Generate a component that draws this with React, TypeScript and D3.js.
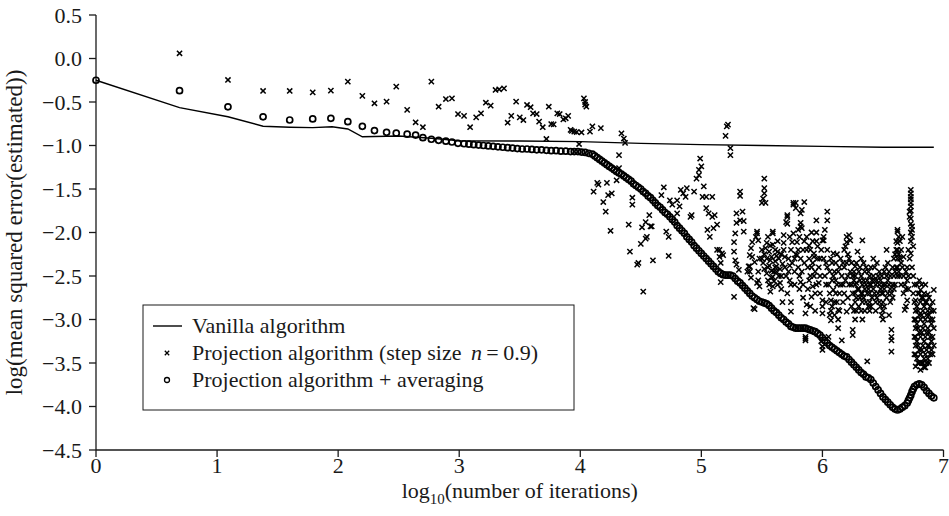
import React from 'react';
import * as d3 from 'd3';

const W = 949;
const H = 516;

const xTicks = [0, 1, 2, 3, 4, 5, 6, 7];
const yTicks = [0.5, 0, -0.5, -1, -1.5, -2, -2.5, -3, -3.5, -4, -4.5];

// vanilla algorithm (solid line)
const vanilla: [number, number][] = [
  [0, -0.25], [0.69, -0.565], [1.09, -0.67], [1.38, -0.778], [1.6, -0.79], [1.79, -0.795],
  [1.95, -0.784], [2.08, -0.81], [2.2, -0.9], [2.5, -0.89], [2.8, -0.92], [3.0, -0.945],
  [3.5, -0.948], [4.0, -0.955], [4.5, -0.975], [5.0, -0.99], [5.5, -1.0], [6.0, -1.01],
  [6.5, -1.02], [6.92, -1.02],
];

// projection algorithm + averaging (open circles)
const averaging: [number, number][] = [
  [0, -0.25], [0.69, -0.37], [1.09, -0.555], [1.38, -0.67], [1.6, -0.707], [1.79, -0.695],
  [1.94, -0.688], [2.08, -0.726], [2.2, -0.78], [2.3, -0.828], [2.4, -0.848], [2.48, -0.858],
  [2.57, -0.87], [2.64, -0.88], [2.7, -0.91], [2.77, -0.928], [2.83, -0.94], [2.89, -0.95],
  [2.94, -0.96], [2.99, -0.975], [3.04, -0.98], [3.08, -0.985], [3.12, -0.99], [3.16, -0.995],
  [3.2, -1.0], [3.24, -1.005], [3.28, -1.01], [3.32, -1.015], [3.36, -1.02], [3.4, -1.025],
  [3.44, -1.03], [3.48, -1.035], [3.52, -1.04], [3.56, -1.04], [3.6, -1.045], [3.64, -1.05],
  [3.68, -1.05], [3.72, -1.055], [3.76, -1.06], [3.8, -1.06], [3.84, -1.065], [3.88, -1.065],
  [3.92, -1.07], [3.95, -1.07], [3.98, -1.07], [4.01, -1.075], [4.04, -1.08], [4.07, -1.09],
  [4.1, -1.1], [4.12, -1.12], [4.14, -1.14], [4.16, -1.16], [4.18, -1.18], [4.2, -1.2],
  [4.22, -1.22], [4.24, -1.24], [4.26, -1.26], [4.28, -1.28], [4.3, -1.3], [4.32, -1.315],
  [4.34, -1.33], [4.36, -1.35], [4.38, -1.37], [4.4, -1.39], [4.42, -1.41], [4.44, -1.44],
  [4.46, -1.46], [4.48, -1.48], [4.5, -1.5], [4.52, -1.53], [4.54, -1.55], [4.56, -1.58],
  [4.58, -1.6], [4.6, -1.63], [4.62, -1.66], [4.64, -1.69], [4.66, -1.71], [4.68, -1.74],
  [4.7, -1.77], [4.72, -1.79], [4.74, -1.82], [4.76, -1.85], [4.78, -1.88], [4.8, -1.92],
  [4.82, -1.95], [4.84, -1.98], [4.86, -2.01], [4.88, -2.05], [4.9, -2.08], [4.92, -2.11],
  [4.94, -2.15], [4.96, -2.18], [4.98, -2.21], [5.0, -2.24], [5.02, -2.27], [5.04, -2.3],
  [5.06, -2.33], [5.08, -2.36], [5.1, -2.39], [5.12, -2.42], [5.14, -2.45], [5.16, -2.47],
  [5.18, -2.485], [5.2, -2.49], [5.22, -2.49], [5.24, -2.49], [5.26, -2.5], [5.28, -2.53],
  [5.3, -2.56], [5.32, -2.58], [5.34, -2.61], [5.36, -2.64], [5.38, -2.67], [5.4, -2.7],
  [5.42, -2.73], [5.44, -2.75], [5.46, -2.77], [5.48, -2.79], [5.5, -2.8], [5.52, -2.81],
  [5.54, -2.82], [5.56, -2.84], [5.58, -2.87], [5.6, -2.9], [5.62, -2.92], [5.64, -2.95],
  [5.66, -2.98], [5.68, -3.0], [5.7, -3.03], [5.72, -3.05], [5.74, -3.08], [5.76, -3.09],
  [5.78, -3.1], [5.8, -3.1], [5.82, -3.1], [5.84, -3.1], [5.86, -3.1], [5.88, -3.11],
  [5.9, -3.12], [5.92, -3.13], [5.94, -3.14], [5.96, -3.16], [5.98, -3.18], [6.0, -3.21],
  [6.02, -3.24], [6.04, -3.27], [6.06, -3.3], [6.08, -3.32], [6.1, -3.34], [6.12, -3.36],
  [6.14, -3.38], [6.16, -3.4], [6.18, -3.42], [6.2, -3.43], [6.22, -3.46], [6.24, -3.49],
  [6.26, -3.52], [6.28, -3.55], [6.3, -3.58], [6.32, -3.61], [6.34, -3.63], [6.36, -3.66],
  [6.38, -3.67], [6.4, -3.69], [6.42, -3.73], [6.44, -3.77], [6.46, -3.81], [6.48, -3.85],
  [6.5, -3.89], [6.52, -3.92], [6.54, -3.95], [6.56, -3.98], [6.58, -4.01], [6.6, -4.03],
  [6.62, -4.04], [6.64, -4.03], [6.66, -4.01], [6.68, -3.99], [6.7, -3.96], [6.71, -3.93],
  [6.72, -3.9], [6.73, -3.87], [6.74, -3.83], [6.75, -3.8], [6.76, -3.77], [6.78, -3.75],
  [6.8, -3.74], [6.82, -3.75], [6.84, -3.78], [6.86, -3.82], [6.88, -3.85], [6.9, -3.88],
  [6.92, -3.9],
];

// projection algorithm, step size 0.9 (crosses): x -> list of y values
const projection: [number, number[]][] = [
  [0.69, [0.06]], [1.09, [-0.247]], [1.38, [-0.373]], [1.6, [-0.373]], [1.79, [-0.389]],
  [1.94, [-0.37]], [2.08, [-0.266]], [2.2, [-0.43]], [2.3, [-0.515]], [2.4, [-0.496]],
  [2.48, [-0.324]], [2.57, [-0.59]], [2.64, [-0.733]], [2.7, [-0.79]], [2.77, [-0.266]],
  [2.83, [-0.554]], [2.89, [-0.466]], [2.94, [-0.458]], [2.99, [-0.638]], [3.04, [-0.66]],
  [3.09, [-0.79]], [3.14, [-0.676]], [3.18, [-0.63]], [3.22, [-0.508]], [3.26, [-0.542]],
  [3.3, [-0.362]], [3.33, [-0.354]], [3.37, [-0.343]], [3.4, [-0.738]], [3.43, [-0.66]],
  [3.47, [-0.496]], [3.5, [-0.676]], [3.53, [-0.707]], [3.56, [-0.534]], [3.59, [-0.56]],
  [3.61, [-0.63]], [3.64, [-0.638]], [3.66, [-0.726]], [3.69, [-0.79]], [3.72, [-0.925]],
  [3.74, [-0.554]], [3.76, [-0.753]], [3.78, [-0.757]], [3.81, [-0.63]], [3.83, [-0.638]],
  [3.86, [-0.7]], [3.88, [-0.687]], [3.9, [-0.66]], [3.92, [-0.82]], [3.93, [-0.833]],
  [3.95, [-0.84]], [3.97, [-0.845]], [3.99, [-0.983]], [4.01, [-0.85]], [4.03, [-0.458]],
  [4.04, [-0.5, -0.53]], [4.05, [-0.554]], [4.08, [-0.84]], [4.1, [-0.78]], [4.11, [-1.53]],
  [4.14, [-1.43]], [4.15, [-1.45]], [4.17, [-0.8]], [4.19, [-1.65]], [4.21, [-1.76]],
  [4.22, [-1.43]], [4.23, [-1.57]], [4.25, [-1.98]], [4.26, [-1.55]], [4.3, [-1.4]],
  [4.32, [-1.11, -1.26]], [4.34, [-0.86]], [4.36, [-0.92]], [4.37, [-0.97]], [4.4, [-1.91]],
  [4.41, [-2.22]], [4.43, [-1.6, -1.68]], [4.47, [-2.37]], [4.48, [-2.35]], [4.5, [-2.13]],
  [4.51, [-1.94]], [4.52, [-2.68]], [4.54, [-1.88, -2.07]], [4.55, [-2.05]], [4.57, [-1.8]],
  [4.58, [-1.93]], [4.59, [-1.93]], [4.6, [-2.32]], [4.67, [-1.57]], [4.69, [-1.48]],
  [4.71, [-1.99]], [4.73, [-2.05, -2.27]], [4.74, [-1.63]], [4.76, [-1.68]], [4.8, [-1.63, -1.78]],
  [4.82, [-1.7]], [4.83, [-1.51]], [4.85, [-1.55]], [4.87, [-1.59]], [4.88, [-1.49]],
  [4.91, [-1.82]], [4.92, [-1.8]], [4.94, [-1.53]], [4.96, [-1.38]], [4.98, [-1.28, -1.34]],
  [4.99, [-1.15]], [5.0, [-1.24]], [5.01, [-1.59]], [5.02, [-1.47]], [5.04, [-1.59, -1.72]],
  [5.05, [-1.97]], [5.06, [-1.78]], [5.07, [-2.05]], [5.09, [-1.59, -1.82]], [5.1, [-1.95]],
  [5.11, [-1.8]], [5.13, [-1.91, -2.2]], [5.15, [-2.2, -2.28]], [5.16, [-2.35, -2.57]],
  [5.17, [-2.24]], [5.18, [-2.26]], [5.2, [-0.89]], [5.21, [-0.78]], [5.22, [-0.76]],
  [5.24, [-1.03, -1.11]], [5.27, [-2.74, -2.22, -2.11]], [5.28, [-2.32, -2.01]],
  [5.29, [-2.37, -1.89, -1.78]], [5.31, [-2.43]], [5.32, [-1.86, -1.53, -1.58]], [5.34, [-1.76]],
  [5.35, [-1.87, -1.99]], [5.38, [-2.45]], [5.39, [-2.39]],
  [5.4, [-2.26, -2.39, -2.45]], [5.41, [-2.18, -2.52]], [5.42, [-2.11, -2.28]], [5.43, [-2.87]],
  [5.44, [-2.34, -2.88]], [5.45, [-2.05]], [5.46, [-1.99, -2.01, -2.58]], [5.47, [-2.09, -2.45, -2.55]],
  [5.48, [-2.3, -2.62]], [5.5, [-1.66, -2.2, -2.3]], [5.51, [-1.61, -2.35]],
  [5.52, [-1.38, -1.49, -1.55, -2.25, -2.42]], [5.53, [-1.66, -2.18]], [5.54, [-2.47, -2.3, -2.12]],
  [5.55, [-2.05, -2.4, -2.55]], [5.56, [-2.6, -2.22, -2.38]], [5.57, [-2.15, -2.32, -2.68]],
  [5.58, [-2.28, -2.44, -2.52]], [5.59, [-1.99, -2.01, -2.14, -2.51, -2.62]], [5.6, [-2.45, -2.56]],
  [5.61, [-2.2, -2.33, -2.4]], [5.62, [-2.39, -2.45, -2.27]], [5.63, [-2.1, -2.22, -2.6]],
  [5.64, [-2.3, -2.5]], [5.65, [-2.58, -2.42]], [5.66, [-2.25, -2.5, -2.65]], [5.67, [-2.8, -2.36]],
  [5.68, [-2.03, -2.12, -2.2]], [5.69, [-2.28, -2.4]], [5.7, [-1.88, -2.5]],
  [5.71, [-1.8, -1.82, -1.9, -2.7]], [5.72, [-2.3, -2.45]], [5.73, [-2.05, -2.38, -2.55]],
  [5.74, [-2.6, -2.8, -2.91, -2.2]], [5.75, [-2.11, -2.35]], [5.76, [-1.66, -1.68, -2.01]],
  [5.77, [-2.3, -2.45, -2.6]], [5.78, [-1.66, -1.72, -2.25]], [5.79, [-2.11, -2.26]],
  [5.8, [-1.97, -2.2, -2.4]], [5.81, [-2.05, -2.5, -2.65]], [5.82, [-1.78, -1.89, -1.93, -2.57, -2.3]],
  [5.83, [-1.74, -1.95, -2.45]], [5.84, [-2.2, -2.6, -2.75]], [5.85, [-1.65, -2.1, -2.35]],
  [5.86, [-2.93, -3.2, -3.22, -3.24]], [5.87, [-2.83, -2.05, -2.2]], [5.88, [-2.4, -2.65]],
  [5.89, [-2.55, -2.15, -2.3]], [5.9, [-2.2, -2.5, -2.85]], [5.91, [-2.74, -2.0, -2.4]],
  [5.92, [-2.1, -2.35, -2.62]], [5.93, [-2.24, -2.28, -2.5]], [5.94, [-2.45, -2.7, -2.9]],
  [5.95, [-1.86, -2.0, -2.1, -2.6]], [5.96, [-2.16, -2.3]], [5.97, [-2.58, -2.4]],
  [5.98, [-2.3, -2.5, -2.7]], [5.99, [-3.25, -2.2]], [6.0, [-2.78, -2.85, -2.93, -3.31, -3.35, -2.09]],
  [6.01, [-2.05, -2.09, -2.3]], [6.02, [-1.97, -2.5]], [6.03, [-2.35, -2.6, -2.8]],
  [6.04, [-1.76, -1.86, -2.2, -2.4]], [6.05, [-3.2, -2.6]], [6.06, [-2.45, -2.7, -2.95]],
  [6.07, [-2.78, -2.9, -3.01, -2.3]], [6.08, [-2.35, -2.55, -2.85]], [6.09, [-2.24, -2.66, -2.5]],
  [6.1, [-2.45, -2.8, -2.95]], [6.11, [-2.35, -2.55, -2.7]], [6.12, [-2.25, -2.6, -2.8]],
  [6.13, [-2.89, -3.0, -3.1, -2.45]], [6.14, [-2.4, -2.7, -2.9]], [6.15, [-2.3, -2.6]],
  [6.16, [-3.24, -2.5]], [6.17, [-2.35, -2.6, -2.8]], [6.18, [-2.2, -2.4, -2.7]], [6.19, [-2.16, -2.55]],
  [6.2, [-2.05, -2.11, -2.91, -2.35]], [6.21, [-2.25, -2.5, -2.75]], [6.22, [-2.03, -2.3, -2.6]],
  [6.23, [-2.09, -2.45]], [6.24, [-2.35, -2.6, -2.85]], [6.25, [-3.12, -3.18, -2.5, -2.7]],
  [6.26, [-2.45, -2.55, -2.9]], [6.27, [-2.39, -2.5, -2.6, -2.7, -2.8, -3.0]],
  [6.28, [-2.35, -2.58, -2.75, -2.9]], [6.29, [-2.22, -2.65]], [6.3, [-2.45, -2.65, -2.85]],
  [6.31, [-2.4, -2.55, -2.75]], [6.32, [-2.3, -2.5, -2.7, -2.9]], [6.33, [-2.09, -2.6, -2.7, -2.8, -3.0]],
  [6.34, [-2.35, -2.55, -2.75]], [6.35, [-2.45, -2.65, -2.9]], [6.36, [-2.4, -2.6, -2.8]],
  [6.37, [-3.48, -2.55, -2.7]], [6.38, [-2.45, -2.65, -2.85]], [6.39, [-2.5, -2.6, -2.7, -2.8, -2.9]],
  [6.4, [-2.4, -2.6, -2.85]], [6.41, [-2.55, -2.75]], [6.42, [-2.3, -2.5, -2.65]],
  [6.43, [-2.4, -2.55, -2.7]], [6.44, [-2.6, -2.8, -2.9]], [6.45, [-2.35, -2.55, -2.75]],
  [6.46, [-2.5, -2.7]], [6.47, [-2.45, -2.6, -2.8]], [6.48, [-2.55, -2.65, -2.85]],
  [6.49, [-2.5, -2.7, -2.95]], [6.5, [-2.6, -2.7, -2.8, -2.9, -3.0]], [6.51, [-2.45, -2.65, -2.85]],
  [6.52, [-2.4, -2.6]], [6.53, [-2.2, -2.5, -2.75]], [6.54, [-2.35, -2.55, -2.7]],
  [6.55, [-2.45, -2.6, -2.95]], [6.56, [-2.5, -2.65, -2.8]], [6.57, [-3.12, -3.2, -3.24, -3.37, -2.7]],
  [6.58, [-2.4, -2.6, -2.75]], [6.59, [-2.3, -2.5, -2.65]], [6.6, [-2.25, -2.45, -2.6]],
  [6.61, [-2.1, -2.2, -2.4]], [6.62, [-1.97, -1.99, -2.12, -2.2, -2.3, -2.4, -2.5]],
  [6.63, [-2.05, -2.25, -2.45]], [6.64, [-2.1, -2.3, -2.5]], [6.65, [-2.2, -2.35, -2.6]],
  [6.66, [-2.05, -2.4]], [6.67, [-2.28, -2.5, -2.7]], [6.68, [-2.89, -2.6]],
  [6.69, [-2.45, -2.65, -2.85]], [6.7, [-2.78, -2.4, -2.55]], [6.71, [-2.2, -2.5, -2.65]],
  [6.72, [-1.76, -1.82, -2.3]],
  [6.73, [-1.51, -1.55, -1.59, -1.62, -1.66, -1.7, -1.75, -1.84, -1.9, -2.0, -2.1, -2.24]],
  [6.74, [-1.93, -1.97, -2.05, -2.4]], [6.75, [-2.16, -2.5, -2.7]],
  [6.76, [-2.6, -2.8, -3.0, -3.2, -3.4]],
  [6.77, [-2.78, -2.9, -3.0, -3.1, -3.2, -3.3, -3.4, -3.54]], [6.78, [-2.6, -2.85, -3.05, -3.25, -3.45]],
  [6.79, [-2.7, -2.9, -3.1, -3.3, -3.5]], [6.8, [-2.55, -2.7, -2.95, -3.15, -3.35, -3.5]],
  [6.81, [-2.66, -2.8, -3.0, -3.2, -3.4, -3.58]], [6.82, [-2.6, -2.75, -2.95, -3.15, -3.35, -3.5]],
  [6.83, [-2.75, -2.9, -3.1, -3.3, -3.5]], [6.84, [-2.7, -2.85, -3.05, -3.25, -3.45, -3.55]],
  [6.85, [-2.6, -2.8, -3.0, -3.2, -3.4, -3.55]], [6.86, [-2.8, -2.95, -3.15, -3.35, -3.5]],
  [6.87, [-2.71, -2.9, -3.1, -3.3, -3.45]], [6.88, [-2.75, -2.95, -3.15, -3.3, -3.5]],
  [6.89, [-2.85, -3.0, -3.2, -3.4]], [6.9, [-2.9, -3.05, -3.25, -3.35]],
  [6.91, [-2.8, -3.0, -3.2, -3.4]], [6.92, [-2.66, -2.9, -3.1, -3.3]],
];

const FONT = "'Liberation Serif', 'DejaVu Serif', 'Noto Serif', 'Times New Roman', serif";
const INK = '#1a1a1a';

export default function App() {
  const x = d3.scaleLinear().domain([0, 7]).range([96, 943.5]);
  const y = d3.scaleLinear().domain([-4.5, 0.5]).range([450, 15]);
  const line = d3.line<[number, number]>().x(d => x(d[0])).y(d => y(d[1]));
  const fmt = d3.format('.1f');
  const crosses = projection.flatMap(([px, ys]) => ys.map(v => [px, v] as [number, number]));
  const cross = 'M-2.6,-2.6L2.6,2.6M-2.6,2.6L2.6,-2.6';

  return (
    <div style={{ position: 'absolute', left: 0, top: 0 }}>
      <svg width={W} height={H} fontFamily={FONT} style={{ display: 'block', background: '#fff' }}>
        {/* axes */}
        <line x1={x(0)} x2={x(7)} y1={y(-4.5)} y2={y(-4.5)} stroke={INK} strokeWidth={1.3} />
        <line x1={x(0)} x2={x(0)} y1={y(0.5)} y2={y(-4.5)} stroke={INK} strokeWidth={1.3} />
        {yTicks.map(t => (
          <g key={t} transform={`translate(${x(0)},${y(t)})`}>
            <line x1={-7} x2={0} stroke={INK} strokeWidth={1.3} />
            <text x={-14} dy="0.35em" textAnchor="end" fontSize={22} fill={INK} fontFamily={FONT}>{fmt(t)}</text>
          </g>
        ))}
        {xTicks.map(t => (
          <g key={t} transform={`translate(${x(t)},${y(-4.5)})`}>
            <line y1={0} y2={7} stroke={INK} strokeWidth={1.3} />
            <text y={23} textAnchor="middle" fontSize={22} fill={INK} fontFamily={FONT}>{t}</text>
          </g>
        ))}
        <text x={(x(0) + x(7)) / 2} y={498} textAnchor="middle" fontSize={22} fill={INK} fontFamily={FONT}>
          log<tspan fontSize={15} dy={6}>10</tspan><tspan dy={-6}>(number of iterations)</tspan>
        </text>
        <text transform={`translate(22,${(y(0.5) + y(-4.5)) / 2}) rotate(-90)`} textAnchor="middle" fontSize={23} fill={INK} fontFamily={FONT}>
          log(mean squared error(estimated))
        </text>

        {/* series */}
        <path d={line(vanilla) ?? ''} fill="none" stroke="#000" strokeWidth={1.4} />
        {crosses.map((d, i) => (
          <path key={i} d={cross} transform={`translate(${x(d[0])},${y(d[1])})`} stroke="#000" strokeWidth={1.5} fill="none" />
        ))}
        {averaging.map((d, i) => (
          <circle key={i} cx={x(d[0])} cy={y(d[1])} r={3} fill="none" stroke="#000" strokeWidth={1.7} />
        ))}

        {/* legend */}
        <g fontSize={22} fill={INK} fontFamily={FONT}>
          <rect x={143} y={305} width={431} height={105} fill="#fff" stroke={INK} strokeWidth={1} />
          <line x1={153} x2={182} y1={326} y2={326} stroke="#000" strokeWidth={1.4} />
          <text x={192} y={333}>Vanilla algorithm</text>
          <path d="M-2.2,-2.2L2.2,2.2M-2.2,2.2L2.2,-2.2" transform="translate(167,353)" stroke="#000" strokeWidth={1.3} />
          <text x={192} y={360}>
            Projection algorithm (step size <tspan fontStyle="italic" dx={4}>n</tspan>
            <tspan>{'\u2009=\u20090.9)'}</tspan>
          </text>
          <circle cx={167} cy={380} r={2.5} fill="none" stroke="#000" strokeWidth={1.3} />
          <text x={192} y={387}>Projection algorithm + averaging</text>
        </g>
      </svg>
    </div>
  );
}
